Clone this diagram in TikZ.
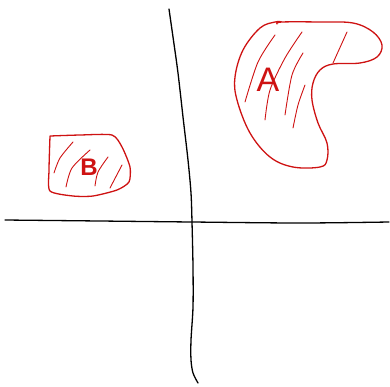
\documentclass[tikz,border=0pt]{standalone}
\usepackage{fontspec}
\setsansfont{Liberation Sans}
\definecolor{inkred}{RGB}{206,18,18}
\begin{document}
\begin{tikzpicture}[x=1pt, y=-1pt, line width=1.3pt, line cap=round, line join=round]
  \useasboundingbox (0,0) rectangle (390,386);
  % axes
  \draw plot[smooth] coordinates {(169,9) (173,37) (178,73) (183,117) (188,160) (191,193) (192,222) (193,267) (193,307) (191,340) (191,360) (193,373) (198,383)};
  \draw plot[smooth] coordinates {(5,220) (100,221) (192,222) (300,223) (389,222)};
  % region A
  \draw[inkred] plot[smooth, tension=0.6] coordinates {(282,22) (275,22) (260,28) (243,50) (235,77) (237,100) (250,133) (270,157) (293,167) (320,167) (327,160) (327,143) (318,123) (312,100) (313,83) (320,70) (333,64) (360,63) (377,57) (382,45) (373,32) (353,23) (320,22) (282,22) (277,24)};
  \draw[inkred, line width=0.9pt] plot[smooth] coordinates {(275,35) (258,62) (245,102)};
  \draw[inkred, line width=0.9pt] plot[smooth] coordinates {(302,32) (285,58) (270,90) (265,120)};
  \draw[inkred, line width=0.9pt] plot[smooth] coordinates {(303,53) (292,75) (285,115)};
  \draw[inkred, line width=0.9pt] plot[smooth] coordinates {(305,85) (298,105) (293,128)};
  \draw[inkred, line width=0.9pt] (347,32) -- (333,63);
  \node[inkred, font=\sffamily\fontsize{34}{34}\selectfont, inner sep=0pt] (labA) at (268,80) {A};
  % region B
  \draw[inkred] plot[smooth, tension=0.4] coordinates {(50,136) (80,135) (112,135) (122,147) (130,167) (129,182) (117,190) (93,196) (73,196) (50,191) (49,170) (50,136)};
  \draw[inkred, line width=0.9pt] plot[smooth] coordinates {(73,142) (60,158) (54,173)};
  \draw[inkred, line width=0.9pt] plot[smooth] coordinates {(90,150) (72,168) (66,187)};
  \draw[inkred, line width=0.9pt] plot[smooth] coordinates {(108,157) (98,172) (95,186)};
  \draw[inkred, line width=0.9pt] (122,165) -- (110,188);
  \node[inkred, font=\sffamily\bfseries\fontsize{24}{24}\selectfont, inner sep=0pt] (labB) at (89,167) {B};
\end{tikzpicture}
\end{document}
